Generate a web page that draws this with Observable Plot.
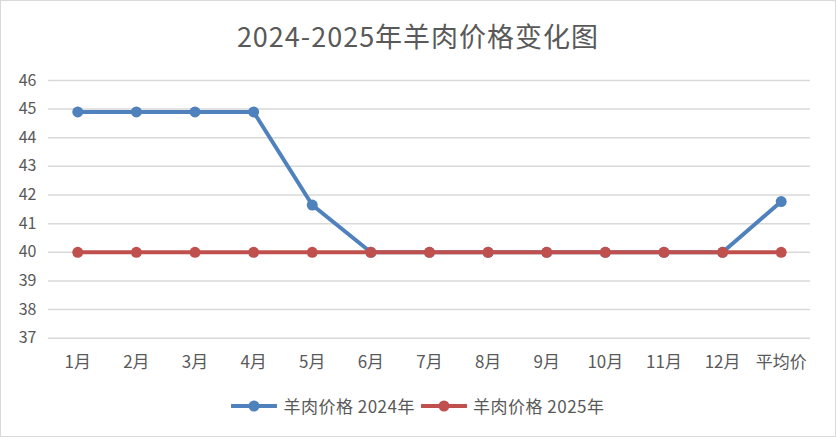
<!DOCTYPE html>
<html>
<head>
<meta charset="utf-8">
<script src="https://cdn.jsdelivr.net/npm/d3@7"></script>
<script src="https://cdn.jsdelivr.net/npm/@observablehq/plot@0.6"></script>
<style>
  body { margin: 0; background: #fff; }
  #wrap { position: relative; width: 836px; height: 437px; box-sizing: border-box; border: 1px solid #d9d9d9; background: #fff; font-family: "Noto Sans CJK SC", "Noto Sans", sans-serif; color: #595959; overflow: hidden; }
  #title { position: absolute; left: 0; top: 16px; width: 100%; text-align: center; font-size: 27px; line-height: 38px; color: #595959; letter-spacing: 1px; }
  #chart { position: absolute; left: -1px; top: 59px; }
  #legend { position: absolute; left: 0; top: 392px; width: 100%; display: flex; justify-content: center; align-items: center; font-size: 17px; line-height: 26px; color: #595959; }
  .item { display: flex; align-items: center; margin: 0 3px; letter-spacing: 0.5px; }
  .item svg { margin-right: 6px; }
</style>
</head>
<body>
<div id="wrap">
  <div id="title">2024-2025年羊肉价格变化图</div>
  <div id="chart"></div>
  <div id="legend"></div>
</div>
<script>
const months = ["1月","2月","3月","4月","5月","6月","7月","8月","9月","10月","11月","12月","平均价"];
const price2024 = [44.9,44.9,44.9,44.9,41.65,40,40,40,40,40,40,40,41.77];
const price2025 = [40,40,40,40,40,40,40,40,40,40,40,40,40];
const yTicks = [37,38,39,40,41,42,43,44,45,46];
const seriesNames = ["羊肉价格 2024年","羊肉价格 2025年"];
const seriesColors = ["#4f81bd","#c0504d"];

const d2024 = months.map((m,i) => ({month: m, value: price2024[i]}));
const d2025 = months.map((m,i) => ({month: m, value: price2025[i]}));

const chart = Plot.plot({
  width: 836,
  height: 320,
  marginLeft: 48,
  marginRight: 25,
  marginTop: 20,
  marginBottom: 42,
  style: {color: "#595959", fontFamily: "'Noto Sans CJK SC', 'Noto Sans', sans-serif", fontSize: "16px", background: "transparent"},
  x: {type: "point", domain: months, padding: 0.5, round: false},
  y: {domain: [37, 46]},
  marks: [
    Plot.ruleY(yTicks, {stroke: "#d9d9d9", strokeWidth: 1.5}),
    Plot.axisY({ticks: yTicks, tickSize: 0, tickPadding: 12, fontSize: 16, label: null}),
    Plot.axisX({tickSize: 0, tickPadding: 18, fontSize: 17, label: null}),
    Plot.line(d2024, {x: "month", y: "value", stroke: seriesColors[0], strokeWidth: 4}),
    Plot.dot(d2024, {x: "month", y: "value", fill: seriesColors[0], r: 5.5}),
    Plot.line(d2025, {x: "month", y: "value", stroke: seriesColors[1], strokeWidth: 4}),
    Plot.dot(d2025, {x: "month", y: "value", fill: seriesColors[1], r: 5.5})
  ]
});
document.getElementById("chart").appendChild(chart);

const legend = document.getElementById("legend");
seriesNames.forEach((name, i) => {
  const item = document.createElement("div");
  item.className = "item";
  item.innerHTML = `<svg width="46" height="14"><line x1="1" y1="7" x2="45" y2="7" stroke="${seriesColors[i]}" stroke-width="4" stroke-linecap="round"/><circle cx="23" cy="7" r="5.5" fill="${seriesColors[i]}"/></svg><span>${name}</span>`;
  legend.appendChild(item);
});
</script>
</body>
</html>
